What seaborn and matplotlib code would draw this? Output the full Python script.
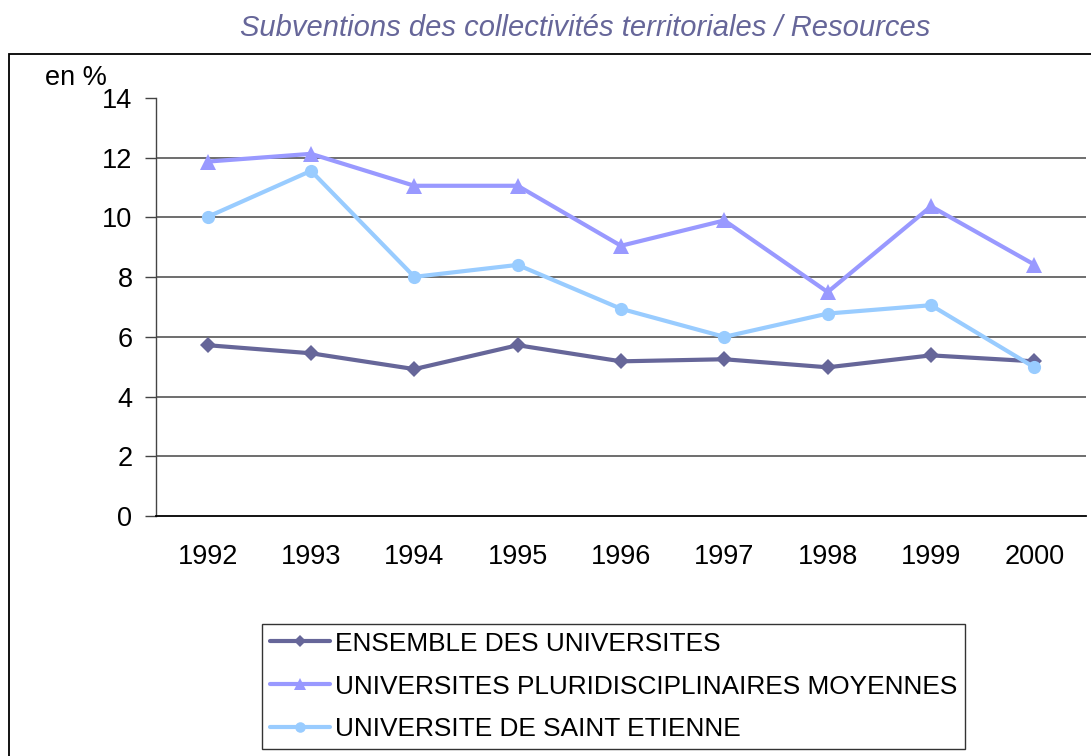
# Subventions des collectivités territoriales - courbes par année
import pandas as pd
import matplotlib
matplotlib.use("Agg")
from matplotlib import pyplot as plt
from matplotlib.patches import Rectangle
import seaborn as sns

# Données (en %)
annees = ["1992", "1993", "1994", "1995", "1996", "1997", "1998", "1999", "2000"]
ensemble = [5.72, 5.45, 4.92, 5.72, 5.18, 5.25, 4.98, 5.38, 5.18]
pluri = [11.87, 12.13, 11.06, 11.06, 9.05, 9.9, 7.5, 10.37, 8.42]
saint_etienne = [10.02, 11.56, 8.01, 8.41, 6.94, 6.0, 6.78, 7.06, 4.98]

series = [
    "ENSEMBLE DES UNIVERSITES",
    "UNIVERSITES PLURIDISCIPLINAIRES MOYENNES",
    "UNIVERSITE DE SAINT ETIENNE",
]
couleurs = ["#666699", "#9999FF", "#99CCFF"]
marqueurs = ["D", "^", "o"]
tailles = [8, 11, 9.5]

df = pd.DataFrame({"annee": annees, series[0]: ensemble,
                   series[1]: pluri, series[2]: saint_etienne})
df_long = df.melt(id_vars="annee", var_name="serie", value_name="valeur")

sns.set_style("white")
plt.rcParams["font.family"] = ["Liberation Sans", "DejaVu Sans"]
plt.rcParams["text.color"] = "black"
plt.rcParams["xtick.color"] = "black"
plt.rcParams["ytick.color"] = "black"

fig = plt.figure(figsize=(10.91, 7.56), dpi=100)
ax = fig.add_axes([156 / 1091, 1 - 516 / 756, (1086 - 156) / 1091, (516 - 98) / 756])

for nom, c, m, s in zip(series, couleurs, marqueurs, tailles):
    sous = df_long[df_long["serie"] == nom]
    sns.lineplot(data=sous, x="annee", y="valeur", ax=ax, color=c, marker=m,
                 markersize=s, markeredgewidth=0, linewidth=3, label=nom,
                 legend=False, sort=False)

ax.set_xlim(-0.5, len(annees) - 0.5)
ax.set_ylim(0, 14)
ax.set_yticks(range(0, 15, 2))
ax.set_xlabel("")
ax.set_ylabel("")

# quadrillage horizontal (sauf en haut)
for v in range(2, 14, 2):
    ax.axhline(v, color="#555555", linewidth=1.2, zorder=0)

for cote in ["top", "right"]:
    ax.spines[cote].set_visible(False)
ax.spines["left"].set_color("#444444")
ax.spines["bottom"].set_color("black")
ax.spines["left"].set_linewidth(1.0)
ax.spines["bottom"].set_linewidth(1.3)

ax.set_xticks([i - 0.5 for i in range(len(annees) + 1)], minor=False)
ax.set_xticklabels([])
ax.set_xticks(range(len(annees)), minor=True)
ax.set_xticklabels(annees, minor=True, fontsize=19.5)
ax.tick_params(axis="x", which="major", direction="out", length=8, width=1,
               color="#444444")
ax.tick_params(axis="x", which="minor", length=0, pad=20)
ax.tick_params(axis="y", direction="out", length=8, width=1, color="#444444",
               labelsize=19.5, pad=9, left=True)

fig.text(585 / 1091, 1 - 28 / 756,
         "Subventions des collectivités territoriales / Resources",
         ha="center", va="center", fontsize=21, style="italic",
         color="#666699")
fig.text(45 / 1091, 1 - 78 / 756, "en %", ha="left", va="center", fontsize=19.5)

# cadre extérieur
fig.patches.append(Rectangle((9 / 1091, -0.01), 1.02, 1.01 - 54 / 756,
                             transform=fig.transFigure, fill=False,
                             edgecolor="black", linewidth=1.3))

handles, labels = ax.get_legend_handles_labels()
leg = fig.legend(handles, labels, loc="center",
                 bbox_to_anchor=(262 / 1091, 1 - 754 / 756,
                                 (965 - 262) / 1091, (754 - 619) / 756),
                 fontsize=18.9, frameon=True, fancybox=False,
                 edgecolor="black", handlelength=2.3, handletextpad=0.2,
                 labelspacing=0.72, borderpad=0.3, borderaxespad=0,
                 markerscale=0.8)
leg.get_frame().set_linewidth(1.0)

fig.savefig("out.png", dpi=100)
